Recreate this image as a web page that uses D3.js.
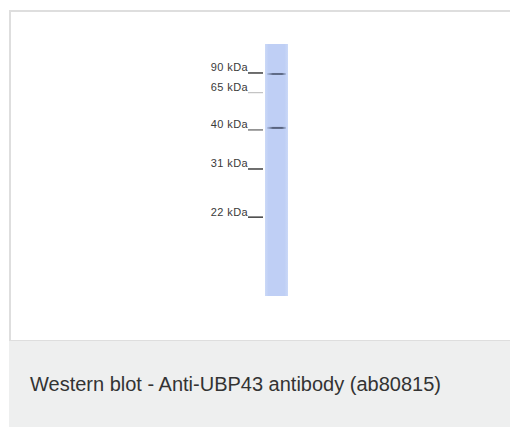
<!DOCTYPE html>
<html>
<head>
<meta charset="utf-8">
<script src="https://cdn.jsdelivr.net/npm/d3@7"></script>
<style>
  body { margin: 0; background: #fff; }
  svg { display: block; }
</style>
</head>
<body>
<div id="blot"></div>
<script>
// marker ladder: size and relative mobility (fraction of lane length)
const markerLabels = ["90 kDa", "65 kDa", "40 kDa", "31 kDa", "22 kDa"];
const markerMobility = [0.115, 0.193, 0.341, 0.496, 0.687];
const markerStrength = [0.95, 0.35, 0.7, 0.95, 0.95];

// detected bands in the single lane
const bandMobility = [0.119, 0.333];
const bandStrength = [0.75, 0.8];

const caption = "Western blot - Anti-UBP43 antibody (ab80815)";

drawBlot();

function drawBlot(){
  const width = 510;
  const height = 427;

  const svg = d3.select("#blot").append("svg")
                .attr("width", width)
                .attr("height", height);

  // panel frame
  svg.append("rect")
      .attr("x", 10).attr("y", 11)
      .attr("width", width).attr("height", 330)
      .style("fill", "#fff")
      .style("stroke", "#dedede")
      .style("stroke-width", 2);

  // caption strip
  svg.append("rect")
      .attr("x", 9).attr("y", 341)
      .attr("width", width).attr("height", height - 341)
      .style("fill", "#eeefef");

  svg.append("text")
      .attr("x", 30).attr("y", 391)
      .style("font-family", "Arial, 'Liberation Sans', sans-serif")
      .style("font-size", "20px")
      .style("fill", "#333")
      .text(caption);

  const laneTop = 44, laneBottom = 296;
  const laneX = 265, laneW = 23;

  const y = d3.scaleLinear()
            .domain([0, 1])
            .range([laneTop, laneBottom]);

  const defs = svg.append("defs");
  const laneGrad = defs.append("linearGradient").attr("id", "laneGrad");
  laneGrad.append("stop").attr("offset", "0%").attr("stop-color", "#cbd9f7");
  laneGrad.append("stop").attr("offset", "15%").attr("stop-color", "#bfcff5");
  laneGrad.append("stop").attr("offset", "85%").attr("stop-color", "#bfcff5");
  laneGrad.append("stop").attr("offset", "100%").attr("stop-color", "#cbd9f7");

  const bandGrad = defs.append("linearGradient").attr("id", "bandGrad");
  bandGrad.append("stop").attr("offset", "0%").attr("stop-color", "#5a6a8a").attr("stop-opacity", 0.2);
  bandGrad.append("stop").attr("offset", "30%").attr("stop-color", "#3f4a62").attr("stop-opacity", 1);
  bandGrad.append("stop").attr("offset", "80%").attr("stop-color", "#3f4a62").attr("stop-opacity", 1);
  bandGrad.append("stop").attr("offset", "100%").attr("stop-color", "#5a6a8a").attr("stop-opacity", 0.3);

  const blur = defs.append("filter").attr("id", "soft")
      .attr("x", "-20%").attr("y", "-200%").attr("width", "140%").attr("height", "500%");
  blur.append("feGaussianBlur").attr("stdDeviation", 0.6);

  svg.append("rect")
      .attr("x", laneX).attr("y", laneTop)
      .attr("width", laneW).attr("height", laneBottom - laneTop)
      .style("fill", "url(#laneGrad)");

  // bands
  svg.selectAll(".band")
      .data(bandMobility)
      .enter().append("rect")
      .attr("class", "band")
      .attr("x", laneX + 2)
      .attr("y", d => y(d) - 1)
      .attr("width", laneW - 4)
      .attr("height", 2)
      .attr("filter", "url(#soft)")
      .style("fill", "url(#bandGrad)")
      .style("opacity", (d, i) => bandStrength[i]);

  // marker ladder, labels to the left of the lane
  const markers = svg.selectAll(".marker")
      .data(markerLabels)
      .enter().append("g")
      .attr("class", "marker")
      .attr("transform", (d, i) => `translate(0,${y(markerMobility[i])})`);

  markers.append("line")
      .attr("x1", 248).attr("x2", 263)
      .attr("y1", 0).attr("y2", 0)
      .style("stroke", (d, i) => d3.interpolateGreys(markerStrength[i]))
      .style("stroke-width", 1.2);

  markers.append("text")
      .attr("x", 248).attr("y", -1.5)
      .attr("text-anchor", "end")
      .style("font-family", "Arial, 'Liberation Sans', sans-serif")
      .style("font-size", "11px")
      .style("letter-spacing", "0.4px")
      .style("fill", "#3a3a3a")
      .text(d => d);
}
</script>
</body>
</html>
